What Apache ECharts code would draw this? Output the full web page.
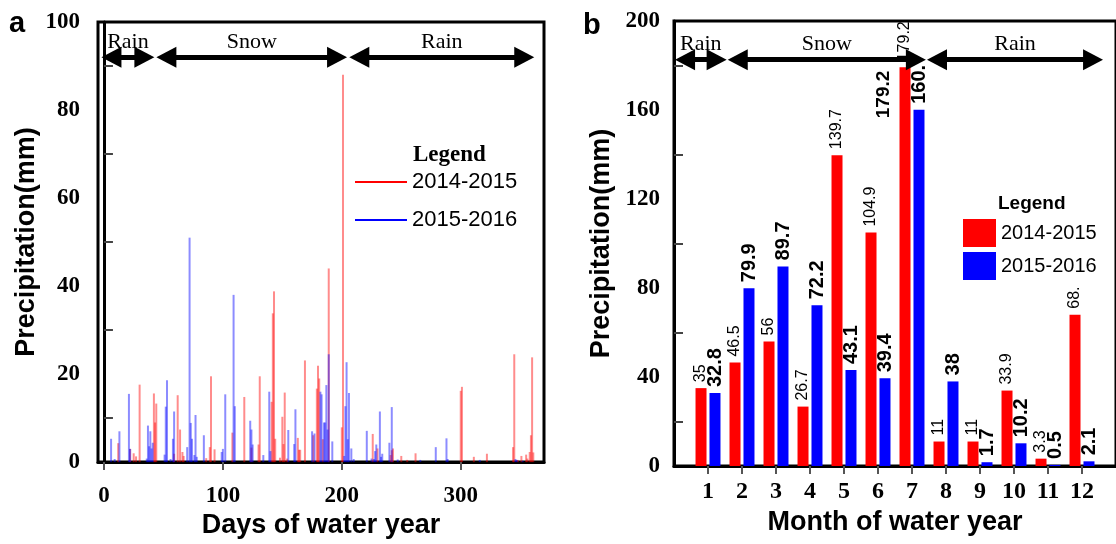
<!DOCTYPE html>
<html>
<head>
<meta charset="utf-8">
<title>Precipitation</title>
<script src="https://cdn.jsdelivr.net/npm/echarts@6.0.0/dist/echarts.min.js"></script>
<style>
  html, body { margin: 0; padding: 0; background: #fff; }
  #chart { width: 1116px; height: 544px; }
</style>
</head>
<body>
<div id="chart"></div>
<script>
// daily precipitation, [day of water year, mm]
const rain1415 = [
  [12, 4.3], [22, 3.0], [25, 2.0], [27, 1.3], [30, 17.6], [42, 15.6], [43, 9.0], [44, 13.3],
  [59, 1.9], [62, 15.2], [64, 7.4], [66, 2.3], [67, 1.4], [86, 0.9], [89, 3.4], [90, 19.5],
  [93, 2.9], [108, 6.7], [118, 14.8], [124, 3.3], [130, 4.0], [131, 19.5], [141, 13.7],
  [142, 33.8], [143, 38.8], [144, 5.3], [148, 1.0], [150, 10.3], [151, 4.1], [152, 15.8],
  [154, 0.8], [163, 5.5], [164, 2.8], [165, 2.8], [169, 23.1], [176, 6.1], [179, 16.7],
  [180, 21.9], [181, 19.0], [184, 5.2], [189, 44.0], [200, 7.9], [201, 88.0], [226, 6.4],
  [230, 3.1], [241, 1.6], [242, 2.7], [243, 3.1], [250, 1.4], [255, 0.5], [262, 2.0],
  [300, 16.2], [301, 17.1], [311, 1.2], [322, 1.9], [344, 3.4], [345, 24.5], [348, 0.5],
  [351, 1.4], [355, 1.7], [356, 0.8], [358, 2.3], [359, 6.1], [360, 23.8], [361, 2.2]
]
const rain1516 = [
  [6, 5.3], [9, 0.7], [13, 7.0], [21, 15.5], [22, 3.0], [36, 0.8], [37, 8.3], [38, 3.6],
  [39, 7.0], [40, 3.1], [41, 4.4], [51, 1.7], [52, 12.6], [53, 18.6], [56, 0.7], [58, 5.3],
  [59, 11.5], [70, 3.4], [72, 51.0], [73, 8.9], [74, 5.3], [76, 1.6], [77, 10.7], [78, 1.2],
  [84, 6.1], [99, 2.3], [100, 3.0], [102, 15.4], [109, 38.0], [110, 12.7], [123, 9.4],
  [124, 7.4], [125, 4.0], [134, 1.6], [139, 16.0], [140, 2.5], [155, 7.3], [160, 4.1],
  [161, 12.0], [175, 7.0], [177, 6.5], [182, 16.0], [183, 15.4], [185, 9.0], [186, 9.0],
  [187, 17.5], [188, 7.4], [189, 24.5], [192, 4.7], [202, 1.4], [203, 12.7], [204, 22.7],
  [205, 5.2], [206, 15.7], [208, 3.1], [210, 0.7], [221, 7.1], [225, 0.8], [227, 0.7],
  [228, 2.5], [229, 4.0], [232, 11.5], [233, 1.2], [234, 1.9], [240, 4.4], [242, 12.5],
  [247, 0.6], [266, 0.5], [279, 3.4], [288, 5.4], [289, 0.7], [316, 0.5], [346, 0.7],
  [347, 0.5], [352, 0.3]
]
const dayTicks = [0, 100, 200, 300]
const dailyYTicks = [10, 30, 50, 70, 90]

// monthly totals
const months = ['1', '2', '3', '4', '5', '6', '7', '8', '9', '10', '11', '12']
const month1415 = [35, 46.5, 56, 26.7, 139.7, 104.9, 179.2, 11, 11, 33.9, 3.3, 68]
const month1516 = [32.8, 79.9, 89.7, 72.2, 43.1, 39.4, 160.1, 38, 1.7, 10.2, 0.5, 2.1]
const labels1415 = ['35', '46.5', '56', '26.7', '139.7', '104.9', '179.2', '11', '11', '33.9', '3.3', '68.']
const labels1516 = ['32.8', '79.9', '89.7', '72.2', '43.1', '39.4', '160.', '38', '1.7', '10.2', '0.5', '2.1']
const monthlyYTicks = [20, 60, 100, 140, 180]
const seasons = ['Rain', 'Snow', 'Rain']
const years = ['2014-2015', '2015-2016']

const serif = 'Liberation Serif'
const sans = 'Liberation Sans'
const monthTicks = months.map((m, i) => i + 1)

const tickFont = { fontFamily: serif, fontWeight: 'bold', fontSize: 23, color: '#000' }
const nameFont = { fontFamily: sans, fontWeight: 'bold', fontSize: 27, color: '#000' }
const frameLine = { show: true, lineStyle: { color: '#000', width: 3 } }

function seasonLine(spans, y) {
  return {
    silent: true,
    animation: false,
    symbol: ['triangle', 'triangle'],
    symbolSize: [21, 20],
    lineStyle: { color: '#000', width: 5, type: 'solid', opacity: 1 },
    itemStyle: { color: '#000' },
    label: {
      show: true,
      position: 'insideMiddleTop',
      formatter: '{b}',
      fontFamily: serif,
      fontSize: 22,
      color: '#000',
      distance: 4
    },
    emphasis: { disabled: true },
    data: spans.map((s, i) => [{ name: seasons[i], coord: [s[0], y] }, { coord: [s[1], y] }])
  }
}

const chart = echarts.init(document.getElementById('chart'))

chart.setOption({
  animation: false,
  title: [
    { text: 'a', left: 9, top: 9, padding: 0, textStyle: { fontFamily: sans, fontWeight: 'bold', fontSize: 29, color: '#000' } },
    { text: 'b', left: 583, top: 11, padding: 0, textStyle: { fontFamily: sans, fontWeight: 'bold', fontSize: 29, color: '#000' } },
    { text: 'Legend', left: 413, top: 144, padding: 0, textStyle: { fontFamily: serif, fontWeight: 'bold', fontSize: 23, color: '#000' } },
    { text: 'Legend', left: 998, top: 194, padding: 0, textStyle: { fontFamily: sans, fontWeight: 'bold', fontSize: 19, color: '#000' } }
  ],
  legend: [
    {
      orient: 'vertical',
      left: 355,
      top: 171,
      padding: 0,
      itemWidth: 52,
      itemHeight: 2,
      itemGap: 16,
      selectedMode: false,
      textStyle: { fontFamily: sans, fontSize: 22, color: '#000' },
      data: [
        { name: years[0], icon: 'rect', itemStyle: { color: '#ff0000' } },
        { name: years[1], icon: 'rect', itemStyle: { color: '#0000ff' } }
      ]
    },
    {
      orient: 'vertical',
      left: 963,
      top: 219,
      padding: 0,
      itemWidth: 33,
      itemHeight: 28,
      itemGap: 5,
      itemTextGap: 7,
      selectedMode: false,
      textStyle: { fontFamily: sans, fontSize: 20, color: '#000' },
      data: [
        { name: years[0], icon: 'rect', itemStyle: { color: '#ff0000' } },
        { name: years[1], icon: 'rect', itemStyle: { color: '#0000ff' } }
      ]
    }
  ],
  grid: [
    { left: 98, top: 22, width: 446, height: 445, show: true, borderColor: '#000', borderWidth: 3 },
    { left: 674, top: 21, width: 447, height: 445, show: true, borderColor: '#000', borderWidth: 3 }
  ],
  xAxis: [
    {
      type: 'value',
      gridIndex: 0,
      min: -5,
      max: 370,
      axisLine: frameLine,
      axisTick: { show: true, customValues: dayTicks, length: 8, lineStyle: { color: '#555', width: 2 } },
      axisLabel: { customValues: dayTicks, margin: 22, ...tickFont },
      splitLine: { show: false },
      name: 'Days of water year',
      nameLocation: 'middle',
      nameGap: 44,
      nameTextStyle: nameFont
    },
    {
      type: 'value',
      gridIndex: 1,
      min: 0,
      max: 13,
      axisLine: frameLine,
      axisTick: { show: true, customValues: monthTicks, length: 8, lineStyle: { color: '#555', width: 2 } },
      axisLabel: { customValues: monthTicks, margin: 14, formatter: v => months[v - 1], ...tickFont, fontSize: 24 },
      splitLine: { show: false },
      name: 'Month of water year',
      nameLocation: 'middle',
      nameGap: 42,
      nameTextStyle: nameFont
    }
  ],
  yAxis: [
    {
      type: 'value',
      gridIndex: 0,
      min: 0,
      max: 100,
      interval: 20,
      axisLine: frameLine,
      axisTick: { show: true, inside: true, customValues: dailyYTicks, length: 9, lineStyle: { color: '#444', width: 2 } },
      axisLabel: { margin: 18, ...tickFont },
      splitLine: { show: false },
      name: 'Precipitation(mm)',
      nameLocation: 'middle',
      nameGap: 58,
      nameTextStyle: nameFont
    },
    {
      type: 'value',
      gridIndex: 1,
      min: 0,
      max: 200,
      interval: 40,
      axisLine: frameLine,
      axisTick: { show: true, inside: true, customValues: monthlyYTicks, length: 9, lineStyle: { color: '#444', width: 2 } },
      axisLabel: { margin: 14, ...tickFont },
      splitLine: { show: false },
      name: 'Precipitation(mm)',
      nameLocation: 'middle',
      nameGap: 59,
      nameTextStyle: nameFont
    }
  ],
  series: [
    {
      name: years[0],
      type: 'bar',
      xAxisIndex: 0,
      yAxisIndex: 0,
      barWidth: 2,
      barGap: '-100%',
      itemStyle: { color: 'rgba(255, 0, 0, 0.45)' },
      data: rain1415,
      markLine: seasonLine([[6.3, 34], [52.5, 196], [214.7, 353.4]], 92)
    },
    {
      name: years[1],
      type: 'bar',
      xAxisIndex: 0,
      yAxisIndex: 0,
      barWidth: 2,
      barGap: '-100%',
      itemStyle: { color: 'rgba(0, 0, 255, 0.45)' },
      data: rain1516
    },
    {
      name: years[0],
      type: 'bar',
      xAxisIndex: 1,
      yAxisIndex: 1,
      barWidth: 11,
      barGap: '27%',
      itemStyle: { color: '#ff0000' },
      label: {
        show: true,
        position: 'top',
        rotate: 90,
        align: 'left',
        verticalAlign: 'middle',
        distance: 6,
        fontFamily: sans,
        fontSize: 16,
        color: '#000',
        formatter: p => labels1415[p.dataIndex]
      },
      data: month1415.map((v, i) => [monthTicks[i], v]),
      markLine: seasonLine([[0.53, 1.46], [2.08, 7.32], [7.94, 12.53]], 182.6),
      markPoint: {
        silent: true,
        symbol: 'rect',
        symbolSize: 1,
        itemStyle: { color: 'rgba(0,0,0,0)' },
        label: { show: true, position: 'inside', rotate: 90, fontFamily: sans, fontWeight: 'bold', fontSize: 19, color: '#000', formatter: '179.2' },
        data: [{ coord: [6.37, 167] }]
      }
    },
    {
      name: years[1],
      type: 'bar',
      xAxisIndex: 1,
      yAxisIndex: 1,
      barWidth: 11,
      barGap: '27%',
      itemStyle: { color: '#0000ff' },
      label: {
        show: true,
        position: 'top',
        rotate: 90,
        align: 'left',
        verticalAlign: 'middle',
        distance: 6,
        fontFamily: sans,
        fontWeight: 'bold',
        fontSize: 20,
        color: '#000',
        formatter: p => labels1516[p.dataIndex]
      },
      data: month1516.map((v, i) => [monthTicks[i], v])
    }
  ]
})
</script>
</body>
</html>
